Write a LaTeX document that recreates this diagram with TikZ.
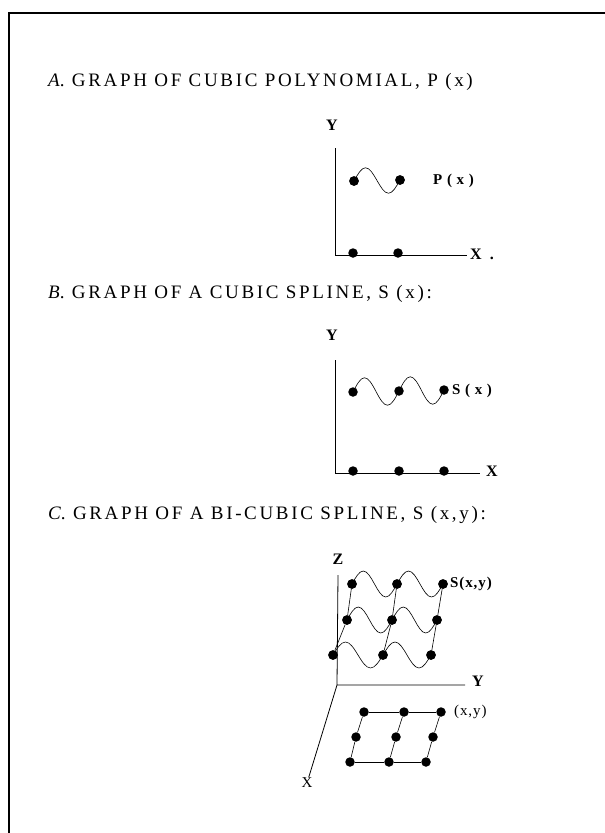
\documentclass[tikz,border=0pt]{standalone}
\usepackage{fontspec}
\setmainfont{Liberation Serif}
\newfontfamily\headfont[LetterSpace=14]{Liberation Serif}
\newfontfamily\labfont[LetterSpace=6]{Liberation Serif}
\usetikzlibrary{calc}
\tikzset{
  dot/.style={circle,fill=black,inner sep=0pt,minimum size=9.5pt},
  axis/.style={line width=0.8pt},
  curve/.style={line width=0.6pt},
  grid/.style={line width=0.6pt},
  axlab/.style={font=\fontsize{16}{16}\selectfont\bfseries,inner sep=1pt},
  funlab/.style={font=\fontsize{15}{16}\selectfont\labfont\bfseries,anchor=west,inner sep=0pt},
  head/.style={font=\fontsize{19}{20}\selectfont\headfont,anchor=base west,inner sep=0pt}
}
% one wave of a cubic piece between two knots
\newcommand{\wave}[3]{%
  \draw[curve] (#1.center) sin ($(#1.center)!.25!(#2.center)+(0,-#3)$)
    cos ($(#1.center)!.5!(#2.center)$) sin ($(#1.center)!.75!(#2.center)+(0,#3)$)
    cos (#2.center);}

\begin{document}
\begin{tikzpicture}[x=1pt,y=-1pt]
  \useasboundingbox (0,0) rectangle (605,833);
  % frame
  \draw[line width=2.2pt] (9,833) -- (9,13) -- (605,13);

  % A: cubic polynomial
  \node[head] (ha) at (48,86) {\textit{A}. GRAPH OF CUBIC POLYNOMIAL, P (x)};
  \node[axlab] (ay) at (332,125) {Y};
  \coordinate (atop) at (335,148);
  \coordinate (ao) at (335,255);
  \coordinate (aend) at (467,255);
  \draw[axis] (atop) -- (ao) -- (aend);
  \node[axlab,anchor=west] (ax) at (469,254) {X\ \ .};
  \node[dot] (a1) at (354,181) {};
  \node[dot] (a2) at (400,180) {};
  \wave{a1}{a2}{13}
  \node[dot] (a1) at (354,181) {};
  \node[dot] (a2) at (400,180) {};
  \node[dot] (ab1) at (353,253) {};
  \node[dot] (ab2) at (398,253) {};
  \node[funlab] (ap) at (433,181) {P ( x )};

  % B: cubic spline
  \node[head] (hb) at (48,298) {\textit{B}. GRAPH OF A CUBIC SPLINE, S (x):};
  \node[axlab] (by) at (332,335) {Y};
  \coordinate (btop) at (335,360);
  \coordinate (bo) at (335,473);
  \coordinate (bend) at (480,473);
  \draw[axis] (btop) -- (bo) -- (bend);
  \node[axlab,anchor=west] (bx) at (485,471) {X};
  \node[dot] (b1) at (353,392) {};
  \node[dot] (b2) at (399,391) {};
  \node[dot] (b3) at (444,390) {};
  \wave{b1}{b2}{14}
  \wave{b2}{b3}{14}
  \foreach \n/\x in {1/353,2/399,3/444} \node[dot] (bb\n) at (\x,471) {};
  \node[funlab] (bs) at (452,391) {S ( x )};

  % C: bi-cubic spline
  \node[head] (hc) at (48,519) {\textit{C}. GRAPH OF A BI-CUBIC SPLINE, S (x,y):};
  \node[axlab] (cz) at (338,559) {Z};
  \coordinate (ctop) at (338,575);
  \coordinate (co) at (337,685);
  \coordinate (cend) at (465,685);
  \draw[axis] (ctop) -- (co) -- (cend);
  \node[axlab] (cy) at (478,681) {Y};
  \node[font=\fontsize{15}{15}\selectfont,inner sep=1pt] (cx) at (307,783) {X};
  \draw[axis] (co) -- (cx);
  % knots of the surface
  \node[dot] (c11) at (352,584) {};
  \node[dot] (c12) at (397,584) {};
  \node[dot] (c13) at (443,584) {};
  \node[dot] (c21) at (347,620) {};
  \node[dot] (c22) at (392,620) {};
  \node[dot] (c23) at (437,620) {};
  \node[dot] (c31) at (333,655) {};
  \node[dot] (c32) at (383,655) {};
  \node[dot] (c33) at (431,655) {};
  \foreach \r in {1,2,3} {
    \wave{c\r1}{c\r2}{13}
    \wave{c\r2}{c\r3}{13}
  }
  \foreach \c in {1,2,3}
    \draw[grid] (c3\c) -- (c2\c) -- (c1\c);
  \foreach \r/\c/\x/\y in {1/1/352/584,1/2/397/584,1/3/443/584,
      2/1/347/620,2/2/392/620,2/3/437/620,3/1/333/655,3/2/383/655,3/3/431/655}
    \node[dot] at (\x,\y) {};
  \node[funlab] (cs) at (450,584) {S(x,y)};
  % grid of (x,y) points
  \node[dot] (g11) at (364,712) {};
  \node[dot] (g12) at (404,712) {};
  \node[dot] (g13) at (441,712) {};
  \node[dot] (g21) at (356,737) {};
  \node[dot] (g22) at (396,737) {};
  \node[dot] (g23) at (433,737) {};
  \node[dot] (g31) at (350,762) {};
  \node[dot] (g32) at (389,762) {};
  \node[dot] (g33) at (426,762) {};
  \draw[grid] (g11) -- (g12) -- (g13);
  \draw[grid] (g31) -- (g32) -- (g33);
  \foreach \c in {1,2,3}
    \draw[grid] (g1\c) -- (g2\c) -- (g3\c);
  \node[font=\fontsize{15}{16}\selectfont\labfont,anchor=west,inner sep=0pt] (cg) at (454,712) {(x,y)};
\end{tikzpicture}
\end{document}
